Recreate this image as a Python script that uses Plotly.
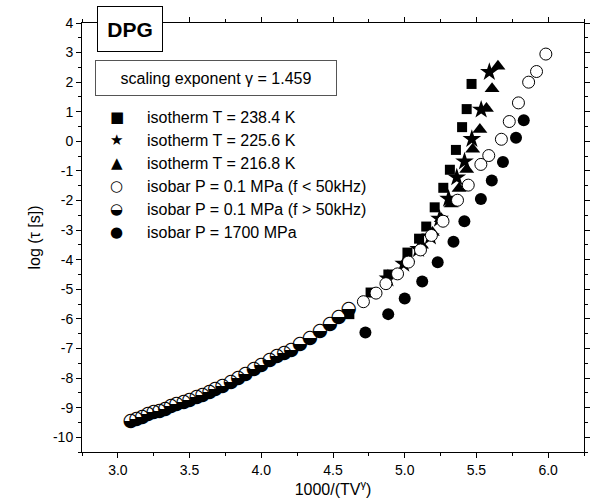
import plotly.graph_objects as go

# ---------------------------------------------------------------
# data (x = 1000/(T V^gamma), y = log tau)
# ---------------------------------------------------------------
# isotherm T = 238.4 K
sq_x = [5.466, 5.432, 5.400, 5.357, 5.315, 5.269, 5.209, 5.150, 5.100, 5.019, 4.886, 4.762, 4.614]
sq_y = [1.94, 1.09, 0.48, -0.29, -0.96, -1.57, -2.23, -2.88, -3.29, -3.76, -4.50, -5.11, -5.84]

# isotherm T = 225.6 K
st_x = [5.590, 5.533, 5.468, 5.417, 5.363, 5.306, 5.243, 5.179, 5.097, 4.993, 4.883]
st_y = [2.34, 1.07, 0.08, -0.68, -1.22, -1.94, -2.62, -3.22, -3.64, -4.14, -4.64]

# isotherm T = 216.8 K
tr_x = [5.650, 5.609, 5.570, 5.524, 5.474, 5.432, 5.379, 5.324, 5.255, 5.193, 5.117, 5.021]
tr_y = [2.54, 1.78, 1.11, 0.40, -0.27, -0.95, -1.59, -2.12, -2.62, -3.08, -3.51, -3.97]

# isobar P = 0.1 MPa (f < 50kHz)
oc_x = [5.984, 5.919, 5.864, 5.793, 5.729, 5.674, 5.586, 5.531, 5.443, 5.368,
        5.267, 5.186, 5.110, 5.026, 4.950, 4.869, 4.800, 4.712]
oc_y = [2.95, 2.36, 2.00, 1.30, 0.67, 0.07, -0.48, -0.78, -1.48, -1.99,
        -2.70, -3.18, -3.67, -4.08, -4.48, -4.81, -5.13, -5.42]

# isobar P = 0.1 MPa (f > 50kHz)
hc_x = [3.09, 3.13, 3.17, 3.21, 3.25, 3.29, 3.33, 3.37, 3.41, 3.46, 3.50,
        3.55, 3.59, 3.64, 3.68, 3.73, 3.79, 3.84, 3.89, 3.95, 4.00,
        4.06, 4.11, 4.16, 4.21, 4.27, 4.34, 4.41, 4.48, 4.54, 4.61]
hc_y = [-9.45, -9.38, -9.31, -9.24, -9.17, -9.11, -9.04, -8.97, -8.90, -8.82, -8.74,
        -8.65, -8.57, -8.47, -8.39, -8.29, -8.14, -8.00, -7.87, -7.70, -7.56,
        -7.41, -7.28, -7.16, -7.05, -6.87, -6.64, -6.43, -6.19, -5.93, -5.69]

# isobar P = 1700 MPa
fc_x = [5.830, 5.776, 5.685, 5.607, 5.531, 5.416, 5.340, 5.230, 5.122, 5.000, 4.885, 4.726]
fc_y = [0.71, 0.12, -0.70, -1.32, -1.95, -2.70, -3.39, -4.09, -4.74, -5.31, -5.84, -6.46]

legend_labels = ["isotherm T = 238.4 K", "isotherm T = 225.6 K", "isotherm T = 216.8 K",
                 "isobar P = 0.1 MPa (f < 50kHz)", "isobar P = 0.1 MPa (f > 50kHz)",
                 "isobar P = 1700 MPa"]
legend_glyphs = ["\u25a0", "\u2605", "\u25b2", "\u25cb", "\u25d2", "\u25cf"]

y_ticks = [4, 3, 2, 1, 0, -1, -2, -3, -4, -5, -6, -7, -8, -9, -10]
y_ticktext = ["4", "3", "2", "1", "0", "-1", "-2", "-3", "-4", "-5", "-6", "-7", "-8", "-9", "-10"]

# plot area in pixels, used to place the boxes / legend
L, R, T, B = 82, 590, 23, 452
W, H = 596, 500


def pxx(x):
    return (x - L) / (R - L)


def pxy(y):
    return (B - y) / (B - T)


FONT = "Liberation Sans, Arial, sans-serif"
SYM = "DejaVu Sans"

fig = go.Figure()
fig.add_trace(go.Scatter(x=sq_x, y=sq_y, mode="markers", name=legend_labels[0],
                         marker=dict(symbol="square", size=10, color="black")))
fig.add_trace(go.Scatter(x=st_x, y=st_y, mode="markers", name=legend_labels[1],
                         marker=dict(symbol="star", size=14, color="black")))
fig.add_trace(go.Scatter(x=tr_x, y=tr_y, mode="markers", name=legend_labels[2],
                         marker=dict(symbol="triangle-up", size=13, color="black")))
fig.add_trace(go.Scatter(x=fc_x, y=fc_y, mode="markers", name=legend_labels[5],
                         marker=dict(symbol="circle", size=12, color="black")))
fig.add_trace(go.Scatter(x=oc_x, y=oc_y, mode="markers", name=legend_labels[3],
                         marker=dict(symbol="circle", size=12, color="white",
                                     line=dict(color="black", width=1))))
# half filled circle: no such plotly symbol, use the unicode glyph
fig.add_trace(go.Scatter(x=hc_x, y=hc_y, mode="text", name=legend_labels[4],
                         text=[legend_glyphs[4]] * len(hc_x), textposition="middle center",
                         textfont=dict(family=SYM, size=19, color="black")))

# legend drawn by hand so the half circle glyph can be shown
row_y = [117, 140, 163, 186, 209, 232]
for glyph, label, yy in zip(legend_glyphs, legend_labels, row_y):
    fig.add_annotation(x=pxx(117), y=pxy(yy), xref="paper", yref="paper", text=glyph,
                       showarrow=False, xanchor="center", yanchor="middle",
                       font=dict(family=SYM, size=15, color="black"))
    fig.add_annotation(x=pxx(146), y=pxy(yy), xref="paper", yref="paper", text=label,
                       showarrow=False, xanchor="left", yanchor="middle",
                       font=dict(family=FONT, size=16, color="black"))

# DPG box
fig.add_annotation(x=pxx(131), y=pxy(29), xref="paper", yref="paper", text="<b>DPG</b>",
                   showarrow=False, xanchor="center", yanchor="middle",
                   width=62, height=42, borderpad=1, bordercolor="black", borderwidth=1,
                   bgcolor="white", font=dict(family=FONT, size=21, color="black"))
# scaling exponent box
fig.add_annotation(x=pxx(218), y=pxy(78), xref="paper", yref="paper",
                   text="scaling exponent \u03b3 = 1.459",
                   showarrow=False, xanchor="center", yanchor="middle",
                   width=238, height=32, borderpad=1, bordercolor="#555", borderwidth=1,
                   bgcolor="white", font=dict(family=FONT, size=16, color="black"))

axis_common = dict(showline=True, linecolor="black", linewidth=1, mirror="allticks",
                   ticks="outside", ticklen=5, tickcolor="black", showgrid=False,
                   zeroline=False, tickfont=dict(family=FONT, size=14, color="black"))
fig.update_xaxes(range=[2.75, 6.25], tick0=3.0, dtick=0.5, tickformat=".1f",
                 minor=dict(ticks="outside", ticklen=3, dtick=0.25, tick0=3.0, tickcolor="black"),
                 title=dict(text="1000/(TV<sup>\u03b3</sup>)", font=dict(family=FONT, size=16, color="black"),
                            standoff=3),
                 **axis_common)
fig.update_yaxes(range=[-10.5, 4], tickmode="array", tickvals=y_ticks, ticktext=y_ticktext,
                 minor=dict(ticks="outside", ticklen=3, dtick=0.5, tick0=0, tickcolor="black"),
                 title=dict(text="log (\u03c4 [s])", font=dict(family=FONT, size=16, color="black"),
                            standoff=8),
                 **axis_common)

fig.update_layout(width=W, height=H, showlegend=False,
                  margin=dict(l=L, r=W - R, t=T, b=H - B),
                  paper_bgcolor="white", plot_bgcolor="white")

# drop the default 8px page margin so the figure sits at the window corner
fig.write_html("out.html", config={"displayModeBar": False},
               post_script="document.body.style.margin='0px';")
